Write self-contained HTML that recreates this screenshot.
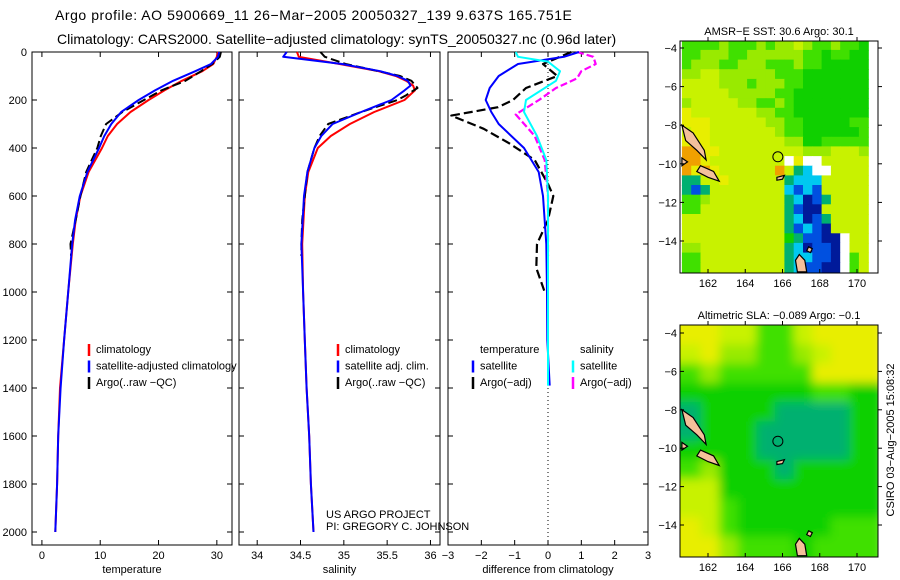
<!DOCTYPE html>
<html><head><meta charset="utf-8">
<style>
html,body{margin:0;padding:0;background:#fff;}
svg{display:block;font-family:"Liberation Sans",sans-serif;}
</style></head>
<body>
<svg id="fig" width="900" height="580" viewBox="0 0 900 580">
<defs>
<filter id="blur" x="-10%" y="-10%" width="120%" height="120%"><feGaussianBlur stdDeviation="5"/></filter>
<clipPath id="clipSla"><rect x="680" y="325" width="198" height="232"/></clipPath>
<clipPath id="clipSst"><rect x="680" y="41" width="198" height="232"/></clipPath>
</defs>
<text x="55" y="20" font-size="14" letter-spacing="0.55">Argo profile: AO 5900669_11 26−Mar−2005 20050327_139 9.637S 165.751E</text>
<text x="57" y="44" font-size="14">Climatology: CARS2000. Satellite−adjusted climatology: synTS_20050327.nc (0.96d later)</text>
<text x="326" y="518" font-size="11">US ARGO PROJECT</text>
<text x="326" y="530" font-size="11">PI: GREGORY C. JOHNSON</text>
<text transform="translate(894,440) rotate(-90)" text-anchor="middle" font-size="11">CSIRO 03−Aug−2005 15:08:32</text>
<g id="plots"></g>
</svg>
<script>
// ---------- profile data ----------
const tDepth = [0,20,50,80,120,160,200,250,300,350,400,500,600,700,800,1000,1200,1400,1600,1800,2000];
const tClim  = [30.2,30.0,29.4,27.5,24.0,21.0,18.3,15.2,12.9,11.3,10.3,8.0,6.6,5.8,5.3,4.5,3.8,3.1,2.8,2.6,2.3];
const tSat   = [30.4,30.2,29.0,26.3,22.5,19.4,16.6,13.6,11.9,10.7,9.8,7.8,6.5,5.7,5.2,4.5,3.8,3.2,2.8,2.6,2.3];
const aDepth = [0,20,50,80,120,160,200,250,300,350,400,500,600,700,800,850];
const tArgo  = [30.7,30.5,29.2,27.3,24.6,20.5,17.5,13.8,11.0,10.1,9.5,7.6,6.6,5.8,4.9,5.0];
const sDepth = [0,20,50,80,100,120,140,160,200,250,300,350,400,500,600,800,1000,1200,1400,1600,1800,2000];
const sClim  = [34.46,34.48,34.95,35.40,35.60,35.72,35.80,35.82,35.70,35.35,35.07,34.85,34.70,34.59,34.55,34.52,34.53,34.55,34.57,34.60,34.62,34.65];
const sSat   = [34.34,34.30,34.98,35.42,35.62,35.74,35.77,35.70,35.55,35.20,34.87,34.74,34.66,34.58,34.54,34.51,34.53,34.55,34.57,34.60,34.62,34.65];
const saDepth= [0,20,50,80,100,120,150,180,200,250,300,350,400,500,600,700,800,850];
const sArgo  = [34.73,34.78,35.02,35.40,35.65,35.78,35.85,35.72,35.62,35.20,34.82,34.72,34.66,34.58,34.55,34.52,34.51,34.51];
const dDepth = [0,20,50,100,150,200,250,300,400,500,600,800,1000,1200,1390];
const dTSat  = [0.93,0.48,-0.9,-1.48,-1.75,-1.87,-1.7,-1.48,-0.72,-0.28,-0.15,-0.05,-0.03,-0.02,0.05];
const daDepth= [0,50,100,150,200,230,265,320,380,450,550,600,700,800,900,1000];
const dTArgo = [0.7,-0.15,0.28,-0.66,-1.05,-1.5,-2.9,-1.93,-1.17,-0.4,0.0,0.16,0.0,-0.33,-0.35,-0.1];
const dsDepth= [0,20,40,80,120,200,250,350,450,600,800,1000,1200,1390];
const dSSat  = [-0.97,-0.9,0.0,0.36,0.24,-0.66,-0.72,-0.33,-0.05,0,0,0,0,0];
const dsaDepth=[0,20,50,80,110,150,200,260,350,450,600,800,850];
const dSArgo = [0.87,1.36,1.43,1.0,0.87,0.24,-0.27,-0.97,-0.4,-0.1,0.0,0.0,0.0];
const depthTicks = [0,200,400,600,800,1000,1200,1400,1600,1800,2000];
const tTicks = [0,10,20,30];
const sTicks = [34,34.5,35,35.5,36];
const sTickLabels = ["34","34.5","35","35.5","36"];
const dTicks = [-3,-2,-1,0,1,2,3];
// ---------- map data (rows from -3.6 southward, cols from 160.6 eastward) ----------
const sstGrid = [
"55556555656676556554","55666556666665545544","56665566655565544444","66776666665554444444",
"77776665666554444444","77777666665544444444","67777766556544444444","87777777665544444444",
"88877777766554444455","78877777776554444445","88877777777664455555","99887777777776667776",
"99877777777w8ww77777","98987777779732ww7777","33778777777322277777","31377777777212177777",
"55677777777320137777","55777777777310077777","77777777777320137777","77777777777312107777",
"77777777777431100w77","66777777777320110w77","55777777777322110w57","55777777777321100w57"];
const slaGrid = [
"8877557888","7866556788","5655555888","4444444554","3444433334","3444333334",
"4444333334","5644434444","7744444444","7754444444","8754444455","8865554555"];
const mapColors = {"0":"#001a9a","1":"#0050e0","2":"#00c8f0","3":"#00b070","4":"#10d000","5":"#40e000","6":"#99ea00","7":"#c8f200","8":"#e8ee00","9":"#f0a000","w":"#ffffff"};
const latTicks = [-4,-6,-8,-10,-12,-14];
const lonTicks = [162,164,166,168,170];
const argoLon = 165.751, argoLat = -9.637;

const NS="http://www.w3.org/2000/svg";
const root=document.getElementById('plots');
function mk(tag,attrs,parent){const e=document.createElementNS(NS,tag);for(const k in attrs)e.setAttribute(k,attrs[k]);(parent||root).appendChild(e);return e;}

function panel(name,x0,x1,y0,y1,xmin,xmax){
  const g=mk('g',{});
  
  
  return {g,x0,x1,y0,y1,sx:v=>x0+(v-xmin)/(xmax-xmin)*(x1-x0),sy:d=>52+d*0.24};
}
function frame(P){
  const r=mk('rect',{x:P.x0,y:P.y0,width:P.x1-P.x0,height:P.y1-P.y0,fill:'none',stroke:'#000','stroke-width':1},P.g);
  
  
}
function xTicks(P,vals,labels,axisName){
  vals.forEach((v,i)=>{
    const x=P.sx(v);
    mk('line',{x1:x,x2:x,y1:P.y1,y2:P.y1-5,stroke:'#000'},P.g);
    mk('line',{x1:x,x2:x,y1:P.y0,y2:P.y0+5,stroke:'#000'},P.g);
    const t=mk('text',{x:x,y:P.y1+14,'font-size':11,'text-anchor':'middle'},P.g);
    t.textContent=labels?labels[i]:String(v).replace('-','−');
    
    
  });
  const t=mk('text',{x:(P.x0+P.x1)/2,y:P.y1+28,'font-size':11,'text-anchor':'middle'},P.g);
  t.textContent=axisName;
  
  
}
function yTicks(P,labels){
  depthTicks.forEach(d=>{
    const y=P.sy(d);
    mk('line',{x1:P.x0,x2:P.x0+5,y1:y,y2:y,stroke:'#000'},P.g);
    mk('line',{x1:P.x1,x2:P.x1-5,y1:y,y2:y,stroke:'#000'},P.g);
    if(labels){
      const t=mk('text',{x:P.x0-5,y:y+4,'font-size':11,'text-anchor':'end'},P.g);
      t.textContent=d;
      
      
    }
  });
}
function series(P,depths,vals,color,dash,w,name){
  const pts=depths.map((d,i)=>P.sx(vals[i]).toFixed(1)+','+P.sy(d).toFixed(1)).join(' ');
  const a={points:pts,fill:'none',stroke:color,'stroke-width':w,'stroke-linejoin':'round'};
  if(dash)a['stroke-dasharray']=dash;
  const l=mk('polyline',a,P.g);
  
  
}
function legend(P,x,y,items){
  items.forEach((it,i)=>{
    const yy=y+i*16.5;
    if(it.c){
      const b=mk('line',{x1:x,x2:x,y1:yy-9,y2:yy+3,stroke:it.c,'stroke-width':2.5},P.g);
      
      
    }
    const t=mk('text',{x:x+7,y:yy,'font-size':11},P.g);
    t.textContent=it.t;
    
    
  });
}

const P1=panel('temperature-panel',32,232,52,545,-1.7,32.6);
frame(P1);yTicks(P1,true);xTicks(P1,tTicks,null,'temperature');
series(P1,tDepth,tClim,'#ff0000',null,2,'temperature-climatology-line');
series(P1,aDepth,tArgo,'#000',"9,4",2,'temperature-argo-line');
series(P1,tDepth,tSat,'#0000ff',null,2,'temperature-satellite-line');
legend(P1,89,353,[{c:'#ff0000',t:'climatology'},{c:'#0000ff',t:'satellite-adjusted climatology'},{c:'#000',t:'Argo(..raw −QC)'}]);

const P2=panel('salinity-panel',239,440,52,545,33.79,36.11);
frame(P2);yTicks(P2,false);xTicks(P2,sTicks,sTickLabels,'salinity');
series(P2,sDepth,sClim,'#ff0000',null,2,'salinity-climatology-line');
series(P2,saDepth,sArgo,'#000',"9,4",2,'salinity-argo-line');
series(P2,sDepth,sSat,'#0000ff',null,2,'salinity-satellite-line');
legend(P2,338,353,[{c:'#ff0000',t:'climatology'},{c:'#0000ff',t:'satellite adj. clim.'},{c:'#000',t:'Argo(..raw −QC)'}]);

const P3=panel('difference-panel',448,648,52,545,-3,3);
frame(P3);yTicks(P3,false);xTicks(P3,dTicks,null,'difference from climatology');
const zl=mk('line',{x1:P3.sx(0),x2:P3.sx(0),y1:52,y2:545,stroke:'#000','stroke-dasharray':'1,3'},P3.g);

series(P3,daDepth,dTArgo,'#000',"9,4",2.2,'temperature-argo-difference');
series(P3,dsaDepth,dSArgo,'#ff00ff',"7,3",2.2,'salinity-argo-difference');
series(P3,dDepth,dTSat,'#0000ff',null,2,'temperature-satellite-difference');
series(P3,dsDepth,dSSat,'#00ffff',null,2,'salinity-satellite-difference');
legend(P3,473,353,[{c:null,t:'temperature'},{c:'#0000ff',t:'satellite'},{c:'#000',t:'Argo(−adj)'}]);
legend(P3,573,353,[{c:null,t:'salinity'},{c:'#00ffff',t:'satellite'},{c:'#ff00ff',t:'Argo(−adj)'}]);

function map(name,title,grid,fy0,fy1,lat4y,lat14y,smooth,clipId){
  const g=mk('g',{});
  
  
  const fx0=680,fx1=878;
  const sx=lon=>708+(lon-162)*(857-708)/8;
  const sy=lat=>lat4y+(lat+4)*(lat14y-lat4y)/(-10);
  const ncol=grid[0].length, nrow=grid.length;
  const dLon=10/ncol, dLat=12/nrow;
  const cg=mk('g',{'clip-path':'url(#'+clipId+')'},g);
  const inner=mk('g',smooth?{filter:'url(#blur)'}:{},cg);
  grid.forEach((row,r)=>{
    [...row].forEach((ch,c)=>{
      const lon0=160.6+c*dLon, lat0=-3.6-r*dLat;
      let x=sx(lon0), x2=sx(lon0+dLon), y=sy(lat0), y2=sy(lat0-dLat);
      if(smooth){ if(c===0)x-=15; if(c===ncol-1)x2+=15; if(r===0)y-=15; if(r===nrow-1)y2+=15; }
      const cell=mk('rect',{x:x.toFixed(1),y:y.toFixed(1),width:(x2-x+0.6).toFixed(1),height:(y2-y+0.6).toFixed(1),fill:mapColors[ch]},inner);
      
      
    });
  });
  const isl=[[[160.6,-8.0],[161.2,-8.4],[161.8,-9.3],[161.9,-9.8],[161.4,-9.3],[160.8,-8.8]],
             [[160.6,-9.7],[160.9,-9.9],[160.6,-10.1]],
             [[161.6,-10.1],[162.3,-10.4],[162.6,-10.9],[162.0,-10.7],[161.4,-10.4]],
             [[166.9,-14.7],[167.2,-15.0],[167.3,-15.6],[166.8,-15.6],[166.7,-15.0]],
             [[165.7,-10.7],[166.1,-10.6],[166.0,-10.8],[165.7,-10.85]],
             [[167.4,-14.3],[167.6,-14.4],[167.5,-14.6],[167.3,-14.5]]];
  isl.forEach(p=>{
    const s=mk('polygon',{points:p.map(q=>sx(q[0]).toFixed(1)+','+sy(q[1]).toFixed(1)).join(' '),fill:'#f4c09a',stroke:'#000','stroke-width':1.2},g);
    
    
  });
  const c=mk('circle',{cx:sx(argoLon),cy:sy(argoLat),r:5,fill:'none',stroke:'#000','stroke-width':1},g);
  
  
  const fr=mk('rect',{x:fx0,y:fy0,width:fx1-fx0,height:fy1-fy0,fill:'none',stroke:'#000'},g);
  
  
  latTicks.forEach(l=>{
    const y=sy(l);
    mk('line',{x1:fx0,x2:fx0+4,y1:y,y2:y,stroke:'#000'},g);
    mk('line',{x1:fx1,x2:fx1+4,y1:y,y2:y,stroke:'#000'},g);
    const t=mk('text',{x:fx0-3,y:y+4,'font-size':11,'text-anchor':'end'},g);
    t.textContent=String(l).replace('-','−');
    
    
  });
  lonTicks.forEach(l=>{
    const x=sx(l);
    mk('line',{x1:x,x2:x,y1:fy1,y2:fy1-4,stroke:'#000'},g);
    mk('line',{x1:x,x2:x,y1:fy0,y2:fy0-4,stroke:'#000'},g);
    const t=mk('text',{x:x,y:fy1+14,'font-size':11,'text-anchor':'middle'},g);
    t.textContent=l;
    
    
  });
  const tt=mk('text',{x:(fx0+fx1)/2,y:fy0-6,'font-size':11,'text-anchor':'middle'},g);
  tt.textContent=title;
  
  
}
map('sst-map','AMSR−E SST: 30.6 Argo: 30.1',sstGrid,41,273,48,241,false,'clipSst');
map('sla-map','Altimetric SLA: −0.089 Argo: −0.1',slaGrid,325,557,333,525,true,'clipSla');
</script>
</body></html>
